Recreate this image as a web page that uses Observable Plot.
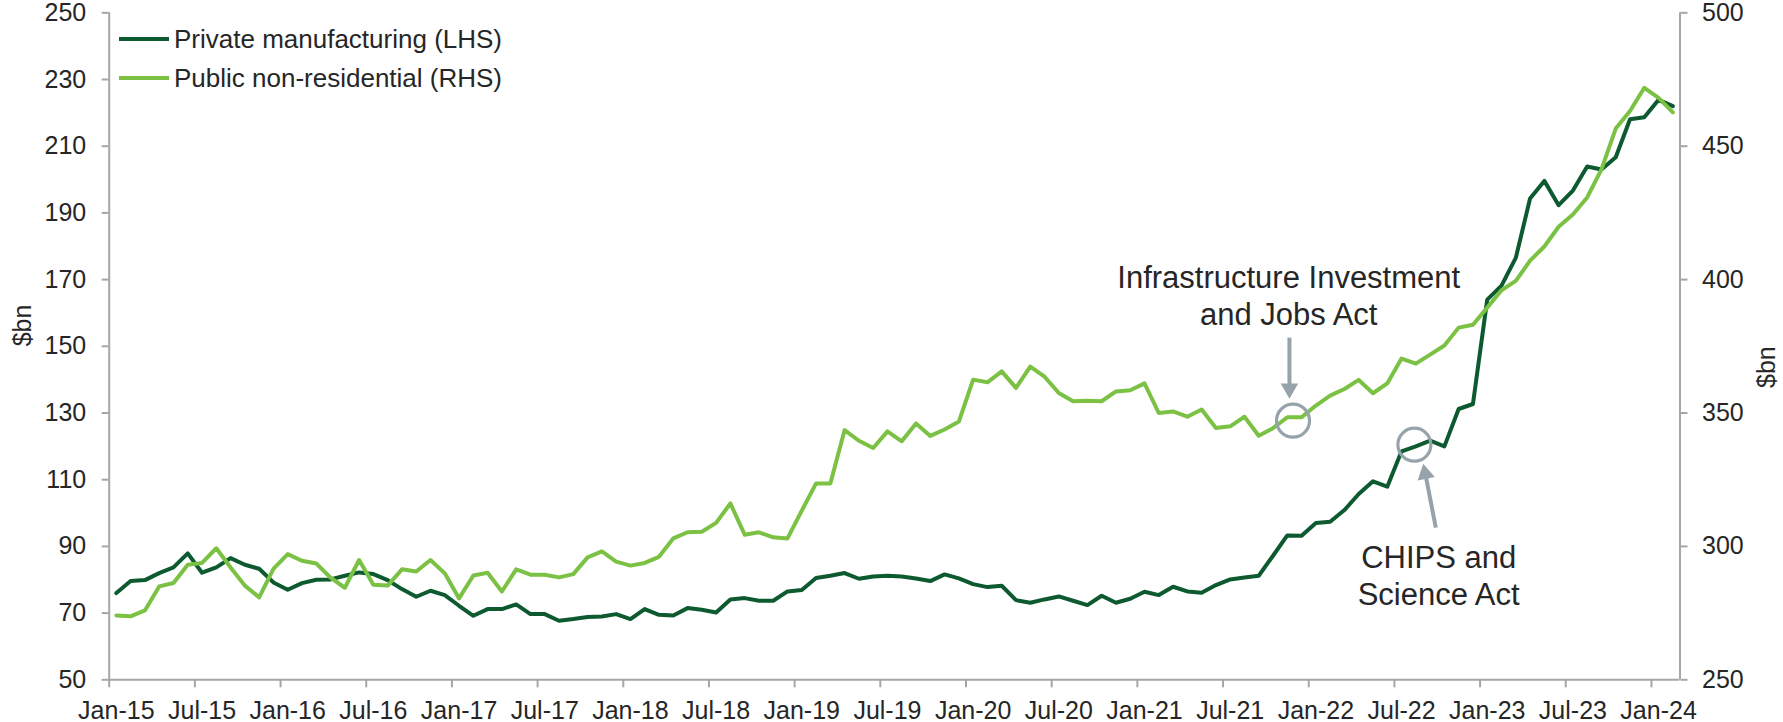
<!DOCTYPE html>
<html>
<head>
<meta charset="utf-8">
<script src="https://cdn.jsdelivr.net/npm/d3@7"></script>
<script src="https://cdn.jsdelivr.net/npm/@observablehq/plot@0.6"></script>
<style>
  html, body { margin: 0; padding: 0; background: #ffffff; }
  #wrap { position: relative; width: 1783px; height: 722px; font-family: "Liberation Sans", Arial, sans-serif; }
  .leg { position: absolute; font-size: 26px; color: #262626; line-height: 26px; white-space: nowrap; }
  .sw { position: absolute; height: 4px; width: 50px; }
</style>
</head>
<body>
<div id="wrap"></div>
<script>
// Monthly, Jan-15 .. Feb-24 (110 months)
const tickLabels = ["Jan-15","Jul-15","Jan-16","Jul-16","Jan-17","Jul-17","Jan-18","Jul-18","Jan-19","Jul-19",
                    "Jan-20","Jul-20","Jan-21","Jul-21","Jan-22","Jul-22","Jan-23","Jul-23","Jan-24"];

// Private manufacturing construction, $bn (LHS)
const manufacturing = [
  76.0, 79.6, 79.9, 82.0, 83.7, 87.9, 82.1, 83.7, 86.5, 84.5,
  83.3, 79.2, 77.0, 79.0, 80.0, 80.1, 81.2, 82.2, 81.7, 79.9,
  77.2, 74.9, 76.7, 75.4, 72.2, 69.2, 71.2, 71.2, 72.6, 69.7,
  69.7, 67.7, 68.2, 68.8, 69.0, 69.7, 68.2, 71.2, 69.5, 69.3,
  71.5, 71.0, 70.2, 74.1, 74.5, 73.7, 73.7, 76.5, 76.9, 80.5,
  81.2, 82.0, 80.3, 81.0, 81.2, 81.0, 80.4, 79.6, 81.6, 80.4,
  78.7, 77.8, 78.2, 73.9, 73.1, 74.1, 75.0, 73.7, 72.4, 75.2,
  73.1, 74.3, 76.4, 75.4, 77.9, 76.5, 76.1, 78.4, 80.1, 80.7,
  81.2, 87.2, 93.3, 93.2, 97.0, 97.4, 100.9, 105.7, 109.5, 107.9,
  118.5, 120.0, 121.7, 120.0, 131.2, 132.7, 164.0, 168.2, 176.5, 194.3,
  199.6, 192.3, 196.7, 203.9, 203.0, 206.7, 218.1, 218.7, 223.9, 222.0
];

// Public non-residential construction, $bn (RHS)
const publicNonRes = [
  274.1, 273.8, 276.0, 285.0, 286.3, 293.1, 293.8, 299.3, 292.1, 285.3,
  280.9, 291.6, 297.1, 294.6, 293.6, 288.3, 284.5, 294.9, 285.6, 285.3,
  291.4, 290.6, 294.9, 289.9, 280.5, 289.1, 290.1, 283.1, 291.4, 289.4,
  289.4, 288.4, 289.6, 295.9, 298.1, 294.3, 292.8, 293.8, 296.1, 303.0,
  305.3, 305.5, 308.8, 316.1, 304.4, 305.3, 303.4, 303.0, 313.4, 323.6,
  323.6, 343.6, 339.6, 336.9, 343.1, 339.4, 346.1, 341.4, 343.8, 346.8,
  362.5, 361.5, 365.6, 359.4, 367.4, 363.6, 357.5, 354.4, 354.6, 354.4,
  358.1, 358.5, 361.1, 350.0, 350.6, 348.6, 351.3, 344.4, 345.0, 348.6,
  341.5, 344.3, 348.4, 348.4, 352.8, 356.5, 359.0, 362.4, 357.4, 361.1,
  370.4, 368.5, 371.9, 375.3, 382.0, 383.1, 389.5, 396.0, 399.5, 407.1,
  412.4, 419.8, 424.4, 430.8, 441.3, 456.6, 463.2, 471.9, 468.1, 462.7
];

const leftTicks = [50, 70, 90, 110, 130, 150, 170, 190, 210, 230, 250];
const rightTicks = [250, 300, 350, 400, 450, 500];

const seriesNames = ["Private manufacturing (LHS)", "Public non-residential (RHS)"];
const colors = ["#0d5a30", "#7bc143"];
const gray = "#97a3ab";
const axisGray = "#a6a6a6";
const textColor = "#262626";
const font = "'Liberation Sans', Arial, sans-serif";

// RHS (250..500) mapped onto LHS (50..250)
const toLeft = r => 50 + (r - 250) / 1.25;
const toRight = l => 250 + (l - 50) * 1.25;

const mfg = manufacturing.map((v, i) => ({i, v}));
const pub = publicNonRes.map((v, i) => ({i, v}));

// annotations (month index, LHS value)
const annotations = [
  {label: "Infrastructure Investment\nand Jobs Act", tx: 82.1, ty: 165.6,
   cx: 82.4, cy: 127.7, ax1: 82.15, ay1: 152.6, ax2: 82.15, ay2: 137.6, hx: 82.15, hy: 137.3, rot: 180},
  {label: "CHIPS and\nScience Act", tx: 92.6, ty: 81.6,
   cx: 90.9, cy: 120.5, ax1: 92.4, ay1: 95.6, ax2: 91.72, ay2: 110.6, hx: 91.66, hy: 111.8, rot: -11.5}
];

const boundaries = d3.range(-0.5, 109, 6);
const centers = tickLabels.map((_, k) => k * 6);

const chart = Plot.plot({
  width: 1783,
  height: 722,
  marginLeft: 108.7,
  marginRight: 103.5,
  marginTop: 12.3,
  marginBottom: 42.7,
  style: {fontFamily: font, fontSize: "25px", color: textColor, background: "white", overflow: "visible"},
  x: {type: "linear", domain: [-0.5, 109.5]},
  y: {domain: [50, 250]},
  marks: [
    Plot.axisX({ticks: boundaries, tickSize: 8, tickFormat: () => "", stroke: axisGray, strokeWidth: 2}),
    Plot.axisX({ticks: centers, tickSize: 0, tickPadding: 21, tickFormat: d => tickLabels[d / 6], fill: textColor, fontSize: 25}),
    Plot.axisY({ticks: leftTicks, anchor: "left", tickSize: 7, tickPadding: 16, label: null, stroke: axisGray, strokeWidth: 2, fill: textColor, fontSize: 25}),
    Plot.axisY({ticks: rightTicks.map(toLeft), anchor: "right", tickSize: 7, tickPadding: 15, label: null,
                tickFormat: d => String(Math.round(toRight(d))), stroke: axisGray, strokeWidth: 2, fill: textColor, fontSize: 25}),
    Plot.ruleY([50], {stroke: axisGray, strokeWidth: 2}),
    Plot.ruleX([-0.5, 109.5], {stroke: axisGray, strokeWidth: 2}),
    Plot.text(["$bn"], {frameAnchor: "left", text: d => d, rotate: -90, dx: -86.5, fontSize: 25, fill: textColor}),
    Plot.text(["$bn"], {frameAnchor: "right", text: d => d, rotate: -90, dx: 87, fontSize: 25, fill: textColor}),
    Plot.line(mfg, {x: "i", y: "v", stroke: colors[0], strokeWidth: 4, strokeLinejoin: "round"}),
    Plot.line(pub, {x: "i", y: d => toLeft(d.v), stroke: colors[1], strokeWidth: 4, strokeLinejoin: "round"}),
    Plot.dot(annotations, {x: "cx", y: "cy", r: 16.5, stroke: gray, strokeWidth: 3.2, fill: "none"}),
    Plot.link(annotations, {x1: "ax1", y1: "ay1", x2: "ax2", y2: "ay2", stroke: gray, strokeWidth: 4}),
    Plot.dot(annotations, {x: "hx", y: "hy", symbol: "triangle", r: 6.5, fill: gray, stroke: "none", rotate: "rot"}),
    Plot.text(annotations, {x: "tx", y: "ty", text: "label", fontSize: 31, lineHeight: 1.19, fill: textColor, textAnchor: "middle", lineAnchor: "middle"})
  ]
});

const wrap = document.getElementById("wrap");
wrap.appendChild(chart);

// legend overlay inside the plot area
const legY = [39, 78];
seriesNames.forEach((name, k) => {
  const sw = document.createElement("div");
  sw.className = "sw";
  sw.style.left = "119px";
  sw.style.top = (legY[k] - 2) + "px";
  sw.style.background = colors[k];
  wrap.appendChild(sw);
  const t = document.createElement("div");
  t.className = "leg";
  t.style.left = "174px";
  t.style.top = (legY[k] - 13) + "px";
  t.textContent = name;
  wrap.appendChild(t);
});
</script>
</body>
</html>
